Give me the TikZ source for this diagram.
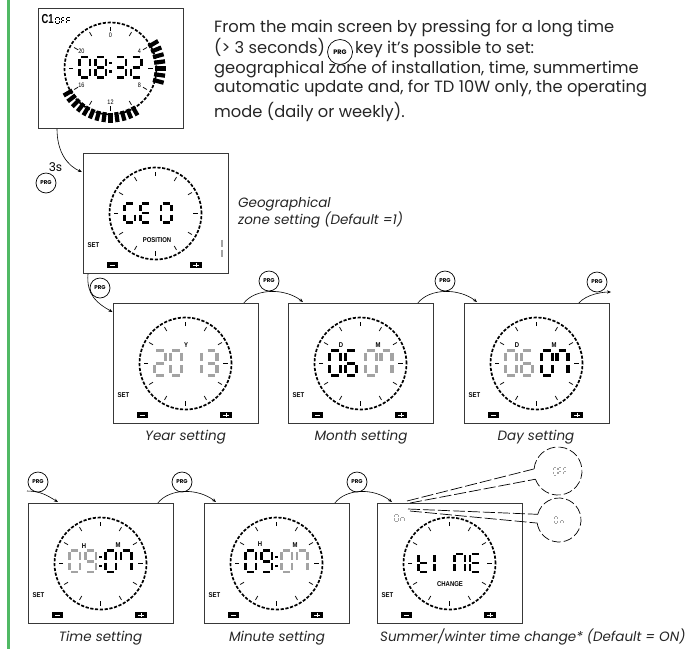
\documentclass[tikz,border=0pt]{standalone}
\usepackage{fontspec}
\setmainfont{Poppins}
\newfontfamily\lcdfont{Liberation Sans}
\usetikzlibrary{calc,arrows.meta}
\definecolor{lgrey}{gray}{0.64}
\definecolor{frame}{gray}{0.22}
\definecolor{gbar}{RGB}{80,185,100}
\tikzset{
 lcdbox/.style={draw=frame,line width=0.8pt,minimum width=145pt,minimum height=120pt,inner sep=0pt,anchor=north west},
 dial/.style={line width=1.7pt,dash pattern=on 3.2pt off 1.6pt},
 dtick/.style={line width=0.75pt},
 lbl/.style={font=\lcdfont\bfseries\fontsize{7}{7}\selectfont,inner sep=0pt},
 dlab/.style={font=\lcdfont\fontsize{6.5}{6.5}\selectfont,inner sep=0pt},
 prg/.style={circle,draw,line width=0.7pt,minimum size=20pt,inner sep=0pt,font=\bfseries\fontsize{5.5}{5.5}\selectfont},
 flow/.style={line width=0.6pt,-{Stealth[length=4pt,width=3.2pt]}},
 txt/.style={font=\fontsize{16.3}{18}\selectfont,inner sep=0pt,text=black!85},
 capt/.style={font=\itshape\fontsize{13.5}{16}\selectfont,inner sep=0pt,text=black!85},
 callout/.style={line width=0.7pt,dash pattern=on 12pt off 3pt},
 calloutc/.style={line width=0.7pt,dash pattern=on 9pt off 3pt},
 bigk/.style={black,line width=3.1pt}, bigg/.style={lgrey,line width=3.1pt},
 midk/.style={black,line width=2.9pt}, midg/.style={lgrey,line width=2.9pt},
 tinyk/.style={black,line width=0.8pt}, tinyg/.style={lgrey,line width=0.8pt},
 cursegs/.style={},
 /sseg/a/.code={\draw[cursegs] (0.15,0)--(0.85,0);},
 /sseg/b/.code={\draw[cursegs] (1,0.08)--(1,0.42);},
 /sseg/c/.code={\draw[cursegs] (1,0.58)--(1,0.92);},
 /sseg/d/.code={\draw[cursegs] (0.15,1)--(0.85,1);},
 /sseg/e/.code={\draw[cursegs] (0,0.58)--(0,0.92);},
 /sseg/f/.code={\draw[cursegs] (0,0.08)--(0,0.42);},
 /sseg/g/.code={\draw[cursegs] (0.15,0.5)--(0.85,0.5);},
}
% x, y, width, height, style, segments
\newcommand\sdig[6]{%
 \begin{scope}[shift={(#1,#2)},xscale=#3,yscale=#4]
 \tikzset{cursegs/.style={#5}}
 \foreach \s in {#6}{\edef\sdtmp{\noexpand\pgfkeys{/sseg/\s}}\sdtmp}
 \end{scope}}
\newcommand\lcdframe[3]{%
 \node[lcdbox] (#1) at (#2,#3) {};
 \begin{scope}[shift={(#2,#3)}]
 \draw[dial] (72.5,60.5) circle[radius=46pt];
 \foreach \ang in {0,30,...,330}
  \draw[dtick] ({72.5+37.5*sin(\ang)},{60.5-37.5*cos(\ang)}) -- ({72.5+42*sin(\ang)},{60.5-42*cos(\ang)});
 \end{scope}}
\newcommand\lcdkeys[3]{%
 \begin{scope}[shift={(#2,#3)}]
 \node[lbl] (#1-set) at (10.5,92.5) {\scalebox{0.85}[1]{SET}};
 \fill[black] (24,109) rectangle (35,115);
 \draw[white,line width=1pt] (26.8,112) -- (32.2,112);
 \fill[black] (107,109) rectangle (119,115);
 \draw[white,line width=1pt] (110.3,112) -- (115.7,112) (113,109.8) -- (113,114.2);
 \end{scope}}
\newcommand\lcdcolon[3]{% x y-top h
 \fill[black] (#1-1.3,{#2+0.3*#3-1.3}) rectangle (#1+1.3,{#2+0.3*#3+1.3});
 \fill[black] (#1-1.3,{#2+0.72*#3-1.3}) rectangle (#1+1.3,{#2+0.72*#3+1.3});}
\begin{document}
\begin{tikzpicture}[x=1pt,y=-1pt]
\useasboundingbox (0,0) rectangle (690,649);
\fill[white] (0,0) rectangle (690,649);
\draw[gbar,line width=2.2pt] (8.5,0) -- (8.5,649);

% ---------- intro text
\node[txt,anchor=base west] (t1) at (214,32) {From the main screen by pressing for a long time};
\node[txt,anchor=base west] (t2) at (214,53) {(> 3 seconds)};
\node[prg,minimum size=25pt,font=\bfseries\fontsize{6.5}{6.5}\selectfont,anchor=west] (prgt) at ($(t2.base east)+(2,-1)$) {PRG};
\node[txt,anchor=base west] (t2b) at ($(prgt.east)+(2,1)$) {key it’s possible to set:};
\node[txt,anchor=base west] (t3) at (214,73) {geographical zone of installation, time, summertime};
\node[txt,anchor=base west] (t4) at (214,92) {automatic update and, for TD 10W only, the operating};
\node[txt,anchor=base west] (t5) at (214,117) {mode (daily or weekly).};

% ---------- main LCD
\lcdframe{main}{38}{8}
\begin{scope}[shift={(38,8)}]
 \foreach \ang in {60,67.5,...,106}
  \draw[line width=4.2pt] ({72.5+44*sin(\ang)},{60.5-44*cos(\ang)}) -- ({72.5+55*sin(\ang)},{60.5-55*cos(\ang)});
 \foreach \ang in {150,157.5,...,241}
  \draw[line width=4.2pt] ({72.5+44*sin(\ang)},{60.5-44*cos(\ang)}) -- ({72.5+54*sin(\ang)},{60.5-54*cos(\ang)});
 \foreach \ang/\lab in {0/0,60/4,120/8,180/12,240/16,300/20}
  \node[dlab] (main-l\lab) at ({72.5+33.5*sin(\ang)},{60.5-33.5*cos(\ang)}) {\scalebox{0.85}[1]{\lab}};
 \node[font=\lcdfont\bfseries\fontsize{13}{13}\selectfont,inner sep=0pt] (main-c1) at (9.5,10.7) {\scalebox{0.72}[1]{C1}};
 \sdig{17.8}{9}{3.4}{6.5}{tinyk}{a,b,c,d,e,f}
 \sdig{23.3}{9}{3.4}{6.5}{tinyk}{a,f,g,e}
 \sdig{28.8}{9}{3.4}{6.5}{tinyk}{a,f,g,e}
 \sdig{41.5}{49}{10.5}{20.5}{midk}{a,b,c,d,e,f}
 \sdig{57.5}{49}{10.5}{20.5}{midk}{a,b,c,d,e,f,g}
 \lcdcolon{72.5}{49}{20.5}
 \sdig{77.5}{49}{10.5}{20.5}{midk}{a,b,g,c,d}
 \sdig{93}{49}{10.5}{20.5}{midk}{a,b,g,e,d}
\end{scope}

% ---------- GEO
\lcdframe{geo}{83}{153}\lcdkeys{geo}{83}{153}
\begin{scope}[shift={(83,153)}]
 \sdig{41.5}{50.2}{10.5}{19.5}{midk}{a,f,e,d,c}
 \sdig{57.5}{50.2}{10.5}{19.5}{midk}{a,f,g,e,d}
 \sdig{78}{50.2}{10.5}{19.5}{midk}{a,b,c,d,e,f}
 \node[lbl] (geo-pos) at (74,87) {\scalebox{0.85}[1]{POSITION}};
 \draw[lgrey,line width=2pt] (139,86.5) -- (139,94) (139,96.5) -- (139,104);
\end{scope}
\node[capt,anchor=base west] (geocap1) at (238,207) {Geographical};
\node[capt,anchor=base west] (geocap2) at (238,224) {zone setting (Default =1)};

% ---------- Year
\lcdframe{year}{113}{303}\lcdkeys{year}{113}{303}
\begin{scope}[shift={(113,303)}]
 \node[lbl] (year-y) at (73,42) {\scalebox{0.85}[1]{Y}};
 \sdig{41.5}{47.8}{11}{24.5}{bigg}{a,b,g,e,d}
 \sdig{57.5}{47.8}{11}{24.5}{bigg}{a,b,c,d,e,f}
 \sdig{77.5}{47.8}{11}{24.5}{bigg}{b,c}
 \sdig{93}{47.8}{11}{24.5}{bigg}{a,b,g,c,d}
\end{scope}
\node[capt,anchor=base] (yearcap) at (185.5,440) {Year setting};

% ---------- Month
\lcdframe{month}{288}{303}\lcdkeys{month}{288}{303}
\begin{scope}[shift={(288,303)}]
 \node[lbl] (month-d) at (53,42) {\scalebox{0.85}[1]{D}};
 \node[lbl] (month-m) at (90,42) {\scalebox{0.85}[1]{M}};
 \sdig{41.5}{47.8}{11}{24.5}{bigk}{a,b,c,d,e,f}
 \sdig{57.5}{47.8}{11}{24.5}{bigk}{a,f,g,e,d,c}
 \sdig{77.5}{47.8}{11}{24.5}{bigg}{a,b,c,d,e,f}
 \sdig{93}{47.8}{11}{24.5}{bigg}{a,b,c,f}
\end{scope}
\node[capt,anchor=base] (monthcap) at (361,440) {Month setting};

% ---------- Day
\lcdframe{day}{464}{303}\lcdkeys{day}{464}{303}
\begin{scope}[shift={(464,303)}]
 \node[lbl] (day-d) at (53,42) {\scalebox{0.85}[1]{D}};
 \node[lbl] (day-m) at (90,42) {\scalebox{0.85}[1]{M}};
 \sdig{41.5}{47.8}{11}{24.5}{bigg}{a,b,c,d,e,f}
 \sdig{57.5}{47.8}{11}{24.5}{bigg}{a,f,g,e,d,c}
 \sdig{77.5}{47.8}{11}{24.5}{bigk}{a,b,c,d,e,f}
 \sdig{93}{47.8}{11}{24.5}{bigk}{a,b,c,f}
\end{scope}
\node[capt,anchor=base] (daycap) at (536,440) {Day setting};

% ---------- Time
\lcdframe{time}{28}{503}\lcdkeys{time}{28}{503}
\begin{scope}[shift={(28,503)}]
 \node[lbl] (time-h) at (56,43) {\scalebox{0.85}[1]{H}};
 \node[lbl] (time-m) at (90,42) {\scalebox{0.85}[1]{M}};
 \sdig{41.5}{47.5}{10.5}{21.5}{midg}{a,b,c,d,e,f}
 \sdig{57.5}{47.5}{10.5}{21.5}{midg}{a,b,c,d,f,g}
 \lcdcolon{72.5}{47.5}{21.5}
 \sdig{77.5}{47.5}{10.5}{21.5}{midk}{a,b,c,d,e,f}
 \sdig{93}{47.5}{10.5}{21.5}{midk}{a,b,c,f}
\end{scope}
\node[capt,anchor=base] (timecap) at (100.5,641) {Time setting};

% ---------- Minute
\lcdframe{minute}{204}{503}\lcdkeys{minute}{204}{503}
\begin{scope}[shift={(204,503)}]
 \node[lbl] (minute-h) at (56,41) {\scalebox{0.85}[1]{H}};
 \node[lbl] (minute-m) at (91,42) {\scalebox{0.85}[1]{M}};
 \sdig{41.5}{47.5}{10.5}{21.5}{midk}{a,b,c,d,e,f}
 \sdig{57.5}{47.5}{10.5}{21.5}{midk}{a,b,c,d,f,g}
 \lcdcolon{72.5}{47.5}{21.5}
 \sdig{77.5}{47.5}{10.5}{21.5}{midg}{a,b,c,d,e,f}
 \sdig{93}{47.5}{10.5}{21.5}{midg}{a,b,c,f}
\end{scope}
\node[capt,anchor=base] (minutecap) at (277,641) {Minute setting};

% ---------- Summer / winter
\lcdframe{summer}{377}{503}\lcdkeys{summer}{377}{503}
\begin{scope}[shift={(377,503)}]
 \sdig{17.8}{11.4}{3.4}{6.8}{tinyg}{a,b,c,d,e,f}
 \sdig{23.8}{11.4}{3.4}{6.8}{tinyg}{g,c,e}
 \sdig{41.5}{51}{10.5}{18}{midk}{f,g,e,d}
 \sdig{57.5}{51}{10.5}{18}{midk}{f,e}
 \sdig{77.5}{51}{10.5}{18}{midk}{a,b,c,e,f}
 \sdig{93}{51}{10.5}{18}{midk}{a,f,g,e,d}
 \node[lbl] (summer-chg) at (73,81) {\scalebox{0.85}[1]{CHANGE}};
\end{scope}
\node[capt,anchor=base west] (summercap) at (380,641) {Summer/winter time change* (Default = ON)};

% callouts
\coordinate (offc) at (558,471);
\coordinate (onc) at (559,520);
\draw[calloutc] ($(offc)+(-175:24)$) arc[start angle=-175,end angle=160,radius=24];
\draw[calloutc] ($(onc)+(-165:22)$) arc[start angle=-165,end angle=172,radius=22];
\draw[callout] ($(summer.north west)+(30,-2)$) -- ($(offc)+(-175:24)$);
\draw[callout] ($(summer.north west)+(33,0)$) -- ($(offc)+(160:24)$);
\draw[callout] ($(summer.north west)+(31,6)$) -- ($(onc)+(-165:22)$);
\draw[callout] ($(summer.north west)+(33,8)$) -- ($(onc)+(172:22)$);
\sdig{553.5}{467}{3.4}{8}{tinyg}{a,b,c,d,e,f}
\sdig{558.5}{467}{3.4}{8}{tinyg}{a,f,g,e}
\sdig{563.5}{467}{3.4}{8}{tinyg}{a,f,g,e}
\sdig{554}{516.5}{3.4}{7}{tinyg}{a,b,c,d,e,f}
\sdig{560}{516.5}{3.4}{7}{tinyg}{g,c,e}

% ---------- PRG keys and flow
\node[prg] (p1) at (46,183) {PRG};
\node[font=\fontsize{12}{12}\selectfont,inner sep=0pt] (p1s) at (55.5,167.5) {3s};
\node[prg] (p2) at (100,288) {PRG};
\node[prg] (p3) at (269,281) {PRG};
\node[prg] (p4) at (445,281) {PRG};
\node[prg] (p5) at (597,282) {PRG};
\node[prg] (p6) at (38,482) {PRG};
\node[prg] (p7) at (182,482) {PRG};
\node[prg] (p8) at (357,482) {PRG};

\draw[flow] ($(main.south west)+(19,0)$) .. controls +(0,24) and +(-14,-6) .. ($(geo.north west)+(-1,19)$);
\draw[flow] ($(geo.south west)+(5,0)$) .. controls +(-2,22) and +(-14,-8) .. ($(year.north west)+(-0.5,9)$);
\draw[flow] ($(year.north east)+(-15,0)$) .. controls +(12,-15) and +(-18,-14) .. ($(month.north west)+(15,-1)$);
\draw[flow] ($(month.north east)+(-16,0)$) .. controls +(12,-15) and +(-18,-14) .. ($(day.north west)+(13,-1)$);
\coordinate (dayout) at (611,292);
\draw[flow] ($(day.north east)+(-31,0)$) .. controls +(8,-9) and +(-8,0) .. (dayout);
\coordinate (rowin) at (27,491);
\draw[flow] (rowin) .. controls +(14,0) and +(-10,-6) .. ($(time.north west)+(30,-1)$);
\draw[flow] ($(time.north east)+(-16,0)$) .. controls +(12,-15) and +(-18,-14) .. ($(minute.north west)+(12,-1)$);
\draw[flow] ($(minute.north east)+(-15,0)$) .. controls +(12,-15) and +(-18,-14) .. ($(summer.north west)+(15,-1)$);
\end{tikzpicture}
\end{document}
